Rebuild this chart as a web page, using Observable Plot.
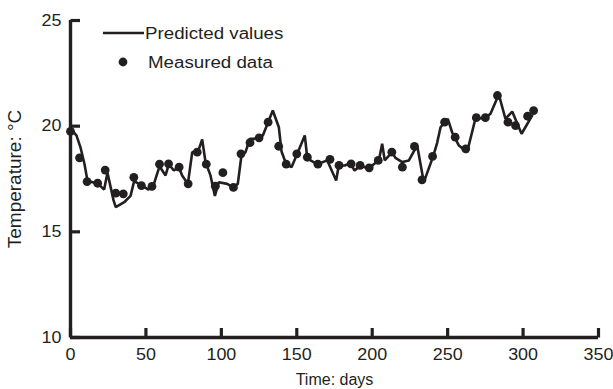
<!DOCTYPE html>
<html>
<head>
<meta charset="utf-8">
<script src="https://cdn.jsdelivr.net/npm/d3@7"></script>
<script src="https://cdn.jsdelivr.net/npm/@observablehq/plot@0.6"></script>
<style>
  html, body { margin: 0; padding: 0; background: #fff; }
  #wrap { position: relative; width: 613px; height: 389px; }
  #legend { position: absolute; left: 0; top: 0; }
</style>
</head>
<body>
<div id="wrap"></div>
<script>
const xTicks = [0, 50, 100, 150, 200, 250, 300, 350];
const yTicks = [10, 15, 20, 25];

const measuredDay = [0, 6, 11, 18, 23, 30, 35, 42, 47, 54, 59, 65, 72, 78, 84, 90, 96, 101, 108, 113, 119, 125, 131, 138, 143, 150, 157, 164, 172, 178, 186, 192, 198, 204, 213, 220, 228, 233, 240, 248, 255, 262, 269, 275, 283, 290, 295, 303, 307];
const measuredTemp = [19.75, 18.5, 17.38, 17.3, 17.92, 16.83, 16.8, 17.58, 17.19, 17.15, 18.2, 18.22, 18.06, 17.27, 18.77, 18.2, 17.16, 17.8, 17.1, 18.69, 19.22, 19.45, 20.19, 19.05, 18.2, 18.69, 18.53, 18.2, 18.43, 18.14, 18.22, 18.14, 18.03, 18.38, 18.77, 18.06, 19.04, 17.46, 18.57, 20.19, 19.48, 18.93, 20.4, 20.4, 21.45, 20.19, 20.03, 20.47, 20.74];

const predictedDay = [0, 4, 6.6, 9.3, 11.3, 17.9, 22.3, 24.5, 28.5, 30, 35.6, 39.8, 42.2, 47, 51.7, 55, 59, 63, 65.2, 68.5, 71.8, 74, 77.8, 80.7, 84.4, 87.3, 89.5, 92.8, 95.7, 98.3, 103.9, 107.8, 110.9, 113.3, 116, 118.9, 122, 124.6, 127.5, 131, 134.1, 138.1, 139.9, 143, 146.5, 150.3, 155.3, 156.9, 159.1, 163.5, 170.2, 176.1, 177.8, 181.8, 185.6, 188.3, 192.2, 194.8, 198.4, 201, 204.4, 206.6, 208.3, 213.2, 215.4, 219.9, 224.3, 229.8, 234.2, 240.4, 243, 245.3, 250.1, 253, 257.3, 262.9, 268.4, 275.1, 278.4, 283.9, 288.3, 292.8, 299, 306];
const predictedTemp = [19.9, 19.55, 19.0, 18.2, 17.4, 17.3, 17.0, 17.8, 16.5, 16.17, 16.4, 16.7, 17.4, 17.2, 17.0, 17.2, 18.1, 17.67, 18.2, 17.9, 18.06, 17.67, 17.27, 18.77, 18.77, 19.37, 18.3, 17.67, 16.7, 17.35, 17.27, 17.1, 17.27, 18.6, 18.77, 19.4, 19.4, 19.5, 19.56, 20.19, 20.74, 19.95, 18.8, 18.2, 18.06, 18.69, 19.56, 18.53, 18.38, 18.2, 18.38, 17.43, 18.14, 18.14, 18.25, 17.9, 18.14, 18.06, 18.03, 18.2, 18.38, 19.17, 18.38, 18.77, 18.5, 18.3, 18.38, 19.09, 17.35, 18.57, 19.2, 19.95, 20.35, 19.7, 19.1, 18.77, 20.35, 20.4, 20.59, 21.5, 20.35, 20.69, 19.64, 20.5];

const measured = measuredDay.map((d, i) => ({day: d, temp: measuredTemp[i]}));
const predicted = predictedDay.map((d, i) => ({day: d, temp: predictedTemp[i]}));

const ink = "#231f20";

const chart = Plot.plot({
  width: 613,
  height: 389,
  marginLeft: 70,
  marginRight: 15,
  marginTop: 20,
  marginBottom: 52,
  x: {domain: [0, 350]},
  y: {domain: [10, 25]},
  style: {fontFamily: "'Liberation Sans', Arial, sans-serif", fontSize: "16px", color: ink, background: "#fff"},
  marks: [
    Plot.axisX(xTicks, {tickSize: 0, tickPadding: 11, label: null, fontSize: 16}),
    Plot.axisY(yTicks, {tickSize: 0, tickPadding: 9, label: null, fontSize: 16}),
    Plot.axisX({ticks: [], tickSize: 0, label: "Time: days", labelAnchor: "center", labelOffset: 47, labelArrow: "none", fontSize: 16}),
    Plot.axisY({ticks: [], tickSize: 0, label: "Temperature: °C", labelAnchor: "center", labelOffset: 63, labelArrow: "none", fontSize: 19}),
    // inward-pointing ticks
    Plot.link(xTicks, {x1: d => d, x2: d => d, y1: () => 10, y2: () => 10.45, stroke: ink, strokeWidth: 3.2}),
    Plot.link(yTicks, {x1: () => 0, x2: () => 6.3, y1: d => d, y2: d => d, stroke: ink, strokeWidth: 3.2}),
    Plot.ruleY([10], {stroke: ink, strokeWidth: 3.4}),
    Plot.ruleX([0], {stroke: ink, strokeWidth: 3.4}),
    Plot.line(predicted, {x: "day", y: "temp", stroke: ink, strokeWidth: 2.6, strokeLinejoin: "miter"}),
    Plot.dot(measured, {x: "day", y: "temp", r: 4.4, fill: ink, stroke: "none"})
  ]
});

const wrap = document.getElementById("wrap");
wrap.appendChild(chart);

const legend = d3.select(wrap).append("svg")
  .attr("id", "legend")
  .attr("width", 613).attr("height", 80)
  .style("font-family", "'Liberation Sans', Arial, sans-serif")
  .style("font-size", "16px");
legend.append("line").attr("x1", 103).attr("x2", 144).attr("y1", 33).attr("y2", 33).attr("stroke", ink).attr("stroke-width", 2.6);
legend.append("text").attr("x", 145).attr("y", 33).attr("dy", "0.35em").attr("fill", ink).text("Predicted values");
legend.append("circle").attr("cx", 123).attr("cy", 62).attr("r", 4.4).attr("fill", ink);
legend.append("text").attr("x", 148).attr("y", 62).attr("dy", "0.35em").attr("fill", ink).text("Measured data");

// the reference's lettering is slightly wider than the font's natural width
function stretch(sel, k) {
  sel.each(function() {
    const w = this.getComputedTextLength();
    if (w > 0) {
      this.setAttribute("textLength", (w * k).toFixed(1));
      this.setAttribute("lengthAdjust", "spacingAndGlyphs");
    }
  });
}
stretch(d3.select(chart).selectAll('[aria-label="x-axis tick label"] text, [aria-label="y-axis tick label"] text'), 1.12);
stretch(legend.selectAll("text"), 1.17);
</script>
</body>
</html>
